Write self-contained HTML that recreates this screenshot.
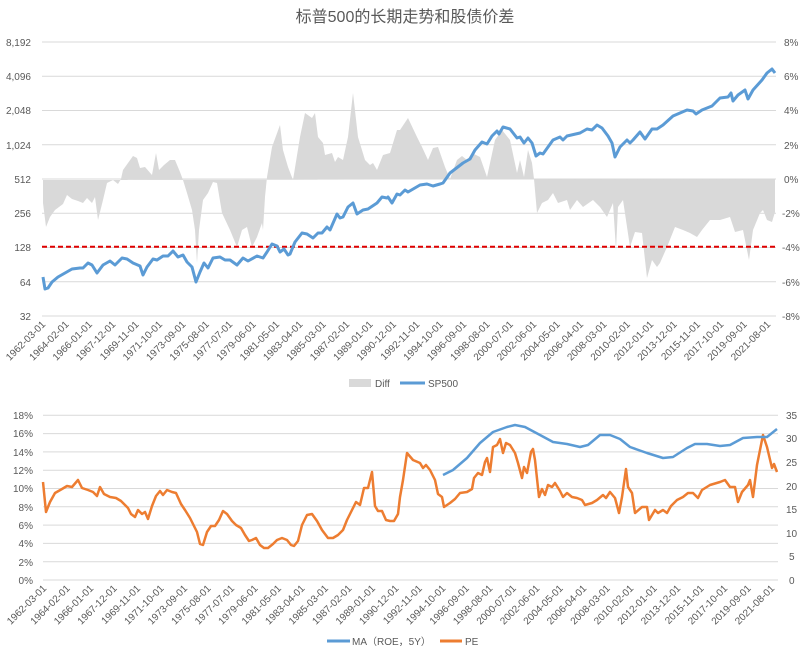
<!DOCTYPE html>
<html><head><meta charset="utf-8"><style>
html,body{margin:0;padding:0;background:#fff;}
svg{display:block;font-family:"Liberation Sans","Noto Sans CJK SC",sans-serif;}
</style></head><body>
<svg width="809" height="663" viewBox="0 0 809 663" xmlns="http://www.w3.org/2000/svg">
<rect width="809" height="663" fill="#fff"/>
<text x="405" y="22" text-anchor="middle" font-size="16" fill="#595959">标普500的长期走势和股债价差</text>
<g stroke="#d9d9d9" stroke-width="1">
<line x1="42" x2="776" y1="42" y2="42"/><line x1="42" x2="776" y1="76.3" y2="76.3"/><line x1="42" x2="776" y1="110.5" y2="110.5"/><line x1="42" x2="776" y1="144.8" y2="144.8"/><line x1="42" x2="776" y1="179" y2="179"/><line x1="42" x2="776" y1="213.3" y2="213.3"/><line x1="42" x2="776" y1="247.5" y2="247.5"/><line x1="42" x2="776" y1="281.8" y2="281.8"/><line x1="42" x2="776" y1="316" y2="316"/>
</g>
<polygon fill="#d9d9d9" points="43,180 43,203 46,227 50,217 55,210 63,204 67,195 72,199 78,201 83,203 87,198 92,203 95,197 98,220 103,200 107,183 113,180 118,184 121,179 123,170 128,163 133,156 137,158 140,168 145,167 152,175 156,153 159,170 164,165 170,160 175,160 180,172 183,180 187,193 192,210 195,230 197,263 199,230 203,200 208,193 213,182 217,183 222,213 230,230 237,247 242,230 247,227 252,247 257,237 262,223 263,230 265,197 267,177 272,147 280,125 283,150 288,167 293,180 300,137 305,113 312,118 315,113 318,137 323,143 325,155 332,153 335,162 338,157 343,160 348,137 353,93 358,137 365,160 370,165 373,163 377,170 383,155 390,153 397,130 400,130 408,118 417,137 422,147 428,160 433,148 438,147 445,167 450,179 457,160 462,156 467,160 472,153 480,157 487,177 495,140 502,130 510,140 517,173 520,160 524,177 528,150 532,163 534,179 537,213 542,203 548,200 553,193 558,203 567,200 570,210 577,200 583,207 593,200 600,207 607,217 613,203 616,250 618,207 623,200 630,247 635,232 642,233 647,278 652,260 657,267 660,263 667,247 675,227 683,230 690,233 697,237 702,230 710,220 720,220 730,217 735,232 743,230 749,260 753,230 760,213 763,210 767,220 772,222 775,212 775,179"/>
<line x1="42" x2="776" y1="246.7" y2="246.7" stroke="#e00000" stroke-width="2" stroke-dasharray="5,3"/>
<polyline fill="none" stroke="#5b9bd5" stroke-width="3" stroke-linejoin="round" points="43,277 45,289 48,288 52,282 58,277 65,273 72,269 80,268 83,268 88,263 92,265 97,273 103,265 110,261 115,265 122,258 127,259 133,263 140,266 143,275 147,267 153,259 157,260 163,256 168,256 173,251 178,257 183,255 187,262 192,267 196,282 200,272 204,263 208,268 213,258 220,257 225,260 230,260 237,265 243,258 248,261 257,256 263,258 267,252 272,244 277,246 280,252 284,249 288,255 290,254 295,242 302,233 307,234 313,238 318,233 322,233 327,227 330,230 337,214 340,218 343,217 348,207 353,203 357,214 363,210 368,209 377,203 382,197 387,198 388,197 392,203 397,194 400,195 405,190 408,192 420,185 427,184 433,186 440,184 443,183 450,173 463,163 470,159 475,150 482,142 487,144 492,136 497,131 499,134 503,127 510,129 517,138 520,137 524,143 528,138 532,143 536,156 540,153 543,154 548,147 553,140 560,137 563,140 567,136 580,133 587,129 592,130 597,125 602,128 608,136 612,143 615,157 620,147 627,140 630,143 633,140 640,132 645,139 652,129 657,129 663,125 673,116 680,113 687,110 693,111 696,114 702,110 712,106 720,98 728,97 731,93 733,101 738,95 745,90 748,99 753,90 762,80 767,73 772,69 775,73"/>
<g font-size="10" fill="#595959" text-anchor="end">
<text x="31" y="46">8,192</text><text x="31" y="80">4,096</text><text x="31" y="114">2,048</text><text x="31" y="149">1,024</text><text x="31" y="183">512</text><text x="31" y="217">256</text><text x="31" y="251">128</text><text x="31" y="286">64</text><text x="31" y="320">32</text>
</g>
<g font-size="10" fill="#595959">
<text x="784" y="46">8%</text><text x="784" y="80">6%</text><text x="784" y="114">4%</text><text x="784" y="149">2%</text><text x="784" y="183">0%</text><text x="782" y="217">-2%</text><text x="782" y="251">-4%</text><text x="782" y="286">-6%</text><text x="782" y="320">-8%</text>
</g>
<g font-size="10" fill="#595959" text-anchor="end">
<text transform="translate(46,325) rotate(-45)">1962-03-01</text>
<text transform="translate(69.4,325) rotate(-45)">1964-02-01</text>
<text transform="translate(92.8,325) rotate(-45)">1966-01-01</text>
<text transform="translate(116.2,325) rotate(-45)">1967-12-01</text>
<text transform="translate(139.5,325) rotate(-45)">1969-11-01</text>
<text transform="translate(162.9,325) rotate(-45)">1971-10-01</text>
<text transform="translate(186.3,325) rotate(-45)">1973-09-01</text>
<text transform="translate(209.7,325) rotate(-45)">1975-08-01</text>
<text transform="translate(233.1,325) rotate(-45)">1977-07-01</text>
<text transform="translate(256.5,325) rotate(-45)">1979-06-01</text>
<text transform="translate(279.9,325) rotate(-45)">1981-05-01</text>
<text transform="translate(303.3,325) rotate(-45)">1983-04-01</text>
<text transform="translate(326.6,325) rotate(-45)">1985-03-01</text>
<text transform="translate(350,325) rotate(-45)">1987-02-01</text>
<text transform="translate(373.4,325) rotate(-45)">1989-01-01</text>
<text transform="translate(396.8,325) rotate(-45)">1990-12-01</text>
<text transform="translate(420.2,325) rotate(-45)">1992-11-01</text>
<text transform="translate(443.6,325) rotate(-45)">1994-10-01</text>
<text transform="translate(467,325) rotate(-45)">1996-09-01</text>
<text transform="translate(490.4,325) rotate(-45)">1998-08-01</text>
<text transform="translate(513.7,325) rotate(-45)">2000-07-01</text>
<text transform="translate(537.1,325) rotate(-45)">2002-06-01</text>
<text transform="translate(560.5,325) rotate(-45)">2004-05-01</text>
<text transform="translate(583.9,325) rotate(-45)">2006-04-01</text>
<text transform="translate(607.3,325) rotate(-45)">2008-03-01</text>
<text transform="translate(630.7,325) rotate(-45)">2010-02-01</text>
<text transform="translate(654.1,325) rotate(-45)">2012-01-01</text>
<text transform="translate(677.5,325) rotate(-45)">2013-12-01</text>
<text transform="translate(700.8,325) rotate(-45)">2015-11-01</text>
<text transform="translate(724.2,325) rotate(-45)">2017-10-01</text>
<text transform="translate(747.6,325) rotate(-45)">2019-09-01</text>
<text transform="translate(771,325) rotate(-45)">2021-08-01</text>
</g>
<rect x="349" y="379" width="22" height="8" fill="#d9d9d9"/>
<text x="375" y="387" font-size="10" fill="#595959">Diff</text>
<line x1="400" x2="425" y1="383" y2="383" stroke="#5b9bd5" stroke-width="3"/>
<text x="428" y="387" font-size="10" fill="#595959">SP500</text>

<g stroke="#d9d9d9" stroke-width="1">
<line x1="43" x2="778" y1="415.3" y2="415.3"/><line x1="43" x2="778" y1="433.6" y2="433.6"/><line x1="43" x2="778" y1="451.9" y2="451.9"/><line x1="43" x2="778" y1="470.2" y2="470.2"/><line x1="43" x2="778" y1="488.5" y2="488.5"/><line x1="43" x2="778" y1="506.8" y2="506.8"/><line x1="43" x2="778" y1="525.1" y2="525.1"/><line x1="43" x2="778" y1="543.4" y2="543.4"/><line x1="43" x2="778" y1="561.7" y2="561.7"/><line x1="43" x2="778" y1="580" y2="580"/>
</g>
<polyline fill="none" stroke="#ed7d31" stroke-width="2.5" stroke-linejoin="round" points="43,482 46,512 50,502 55,493 62,489 67,486 72,487 78,480 82,488 88,490 93,492 97,496 100,487 104,494 110,497 116,498 121,501 125,505 128,508 131,514 135,517 138,510 142,514 145,512 148,519 152,506 156,496 160,491 163,495 167,490 172,492 176,493 181,504 185,510 190,518 193,524 197,532 200,544 203,545 207,532 211,526 215,526 219,520 223,511 227,514 232,521 236,525 241,528 245,535 249,541 252,540 256,538 260,545 264,548 268,548 273,544 277,540 282,538 287,540 291,545 294,546 298,541 302,525 307,515 312,514 317,521 322,530 328,538 333,538 338,535 343,530 347,520 352,510 356,502 360,505 364,488 368,488 372,472 375,506 378,511 382,511 386,520 390,521 394,521 398,514 400,497 403,480 407,453 413,460 420,463 423,468 426,465 430,470 435,480 438,494 442,497 444,507 450,503 455,499 460,493 467,492 472,489 474,478 478,473 482,475 485,462 487,458 490,472 493,447 497,445 500,439 503,453 506,443 510,445 515,453 518,463 522,478 524,467 527,473 531,452 533,449 535,460 539,497 542,489 545,495 548,485 552,487 555,483 560,491 563,497 567,493 572,497 577,498 582,500 585,505 592,503 597,500 603,495 606,498 610,492 615,498 619,513 622,497 626,469 628,487 632,493 635,513 642,507 647,507 649,520 655,510 658,513 663,510 667,513 671,506 677,500 683,497 688,493 693,493 698,498 702,490 710,485 720,482 725,480 730,487 735,487 738,502 742,492 748,485 750,480 753,497 757,465 763,435 767,447 772,468 774,464 777,472"/>
<polyline fill="none" stroke="#5b9bd5" stroke-width="2.5" stroke-linejoin="round" points="443,475 453,470 467,458 480,443 493,432 507,427 515,425 525,427 540,435 553,442 567,444 580,447 588,445 600,435 610,435 620,439 630,447 647,453 663,458 673,457 687,448 695,444 707,444 720,446 730,445 743,438 757,437 767,437 777,429"/>
<g font-size="10" fill="#595959" text-anchor="end">
<text x="33" y="419">18%</text><text x="33" y="437">16%</text><text x="33" y="456">14%</text><text x="33" y="474">12%</text><text x="33" y="492">10%</text><text x="33" y="511">8%</text><text x="33" y="529">6%</text><text x="33" y="547">4%</text><text x="33" y="566">2%</text><text x="33" y="584">0%</text>
</g>
<g font-size="10" fill="#595959">
<text x="786" y="419">35</text><text x="786" y="442">30</text><text x="786" y="466">25</text><text x="786" y="490">20</text><text x="786" y="513">15</text><text x="786" y="537">10</text><text x="789" y="560">5</text><text x="789" y="584">0</text>
</g>
<g font-size="10" fill="#595959" text-anchor="end">
<text transform="translate(47,589) rotate(-45)">1962-03-01</text>
<text transform="translate(70.5,589) rotate(-45)">1964-02-01</text>
<text transform="translate(94,589) rotate(-45)">1966-01-01</text>
<text transform="translate(117.5,589) rotate(-45)">1967-12-01</text>
<text transform="translate(140.9,589) rotate(-45)">1969-11-01</text>
<text transform="translate(164.4,589) rotate(-45)">1971-10-01</text>
<text transform="translate(187.9,589) rotate(-45)">1973-09-01</text>
<text transform="translate(211.4,589) rotate(-45)">1975-08-01</text>
<text transform="translate(234.9,589) rotate(-45)">1977-07-01</text>
<text transform="translate(258.4,589) rotate(-45)">1979-06-01</text>
<text transform="translate(281.8,589) rotate(-45)">1981-05-01</text>
<text transform="translate(305.3,589) rotate(-45)">1983-04-01</text>
<text transform="translate(328.8,589) rotate(-45)">1985-03-01</text>
<text transform="translate(352.3,589) rotate(-45)">1987-02-01</text>
<text transform="translate(375.8,589) rotate(-45)">1989-01-01</text>
<text transform="translate(399.3,589) rotate(-45)">1990-12-01</text>
<text transform="translate(422.7,589) rotate(-45)">1992-11-01</text>
<text transform="translate(446.2,589) rotate(-45)">1994-10-01</text>
<text transform="translate(469.7,589) rotate(-45)">1996-09-01</text>
<text transform="translate(493.2,589) rotate(-45)">1998-08-01</text>
<text transform="translate(516.7,589) rotate(-45)">2000-07-01</text>
<text transform="translate(540.2,589) rotate(-45)">2002-06-01</text>
<text transform="translate(563.6,589) rotate(-45)">2004-05-01</text>
<text transform="translate(587.1,589) rotate(-45)">2006-04-01</text>
<text transform="translate(610.6,589) rotate(-45)">2008-03-01</text>
<text transform="translate(634.1,589) rotate(-45)">2010-02-01</text>
<text transform="translate(657.6,589) rotate(-45)">2012-01-01</text>
<text transform="translate(681.1,589) rotate(-45)">2013-12-01</text>
<text transform="translate(704.5,589) rotate(-45)">2015-11-01</text>
<text transform="translate(728,589) rotate(-45)">2017-10-01</text>
<text transform="translate(751.5,589) rotate(-45)">2019-09-01</text>
<text transform="translate(775,589) rotate(-45)">2021-08-01</text>
</g>
<line x1="327" x2="350" y1="641" y2="641" stroke="#5b9bd5" stroke-width="3"/>
<text x="352" y="645" font-size="10" fill="#595959">MA（ROE，5Y）</text>
<line x1="440" x2="462" y1="641" y2="641" stroke="#ed7d31" stroke-width="3"/>
<text x="465" y="645" font-size="10" fill="#595959">PE</text>
</svg>
</body></html>
